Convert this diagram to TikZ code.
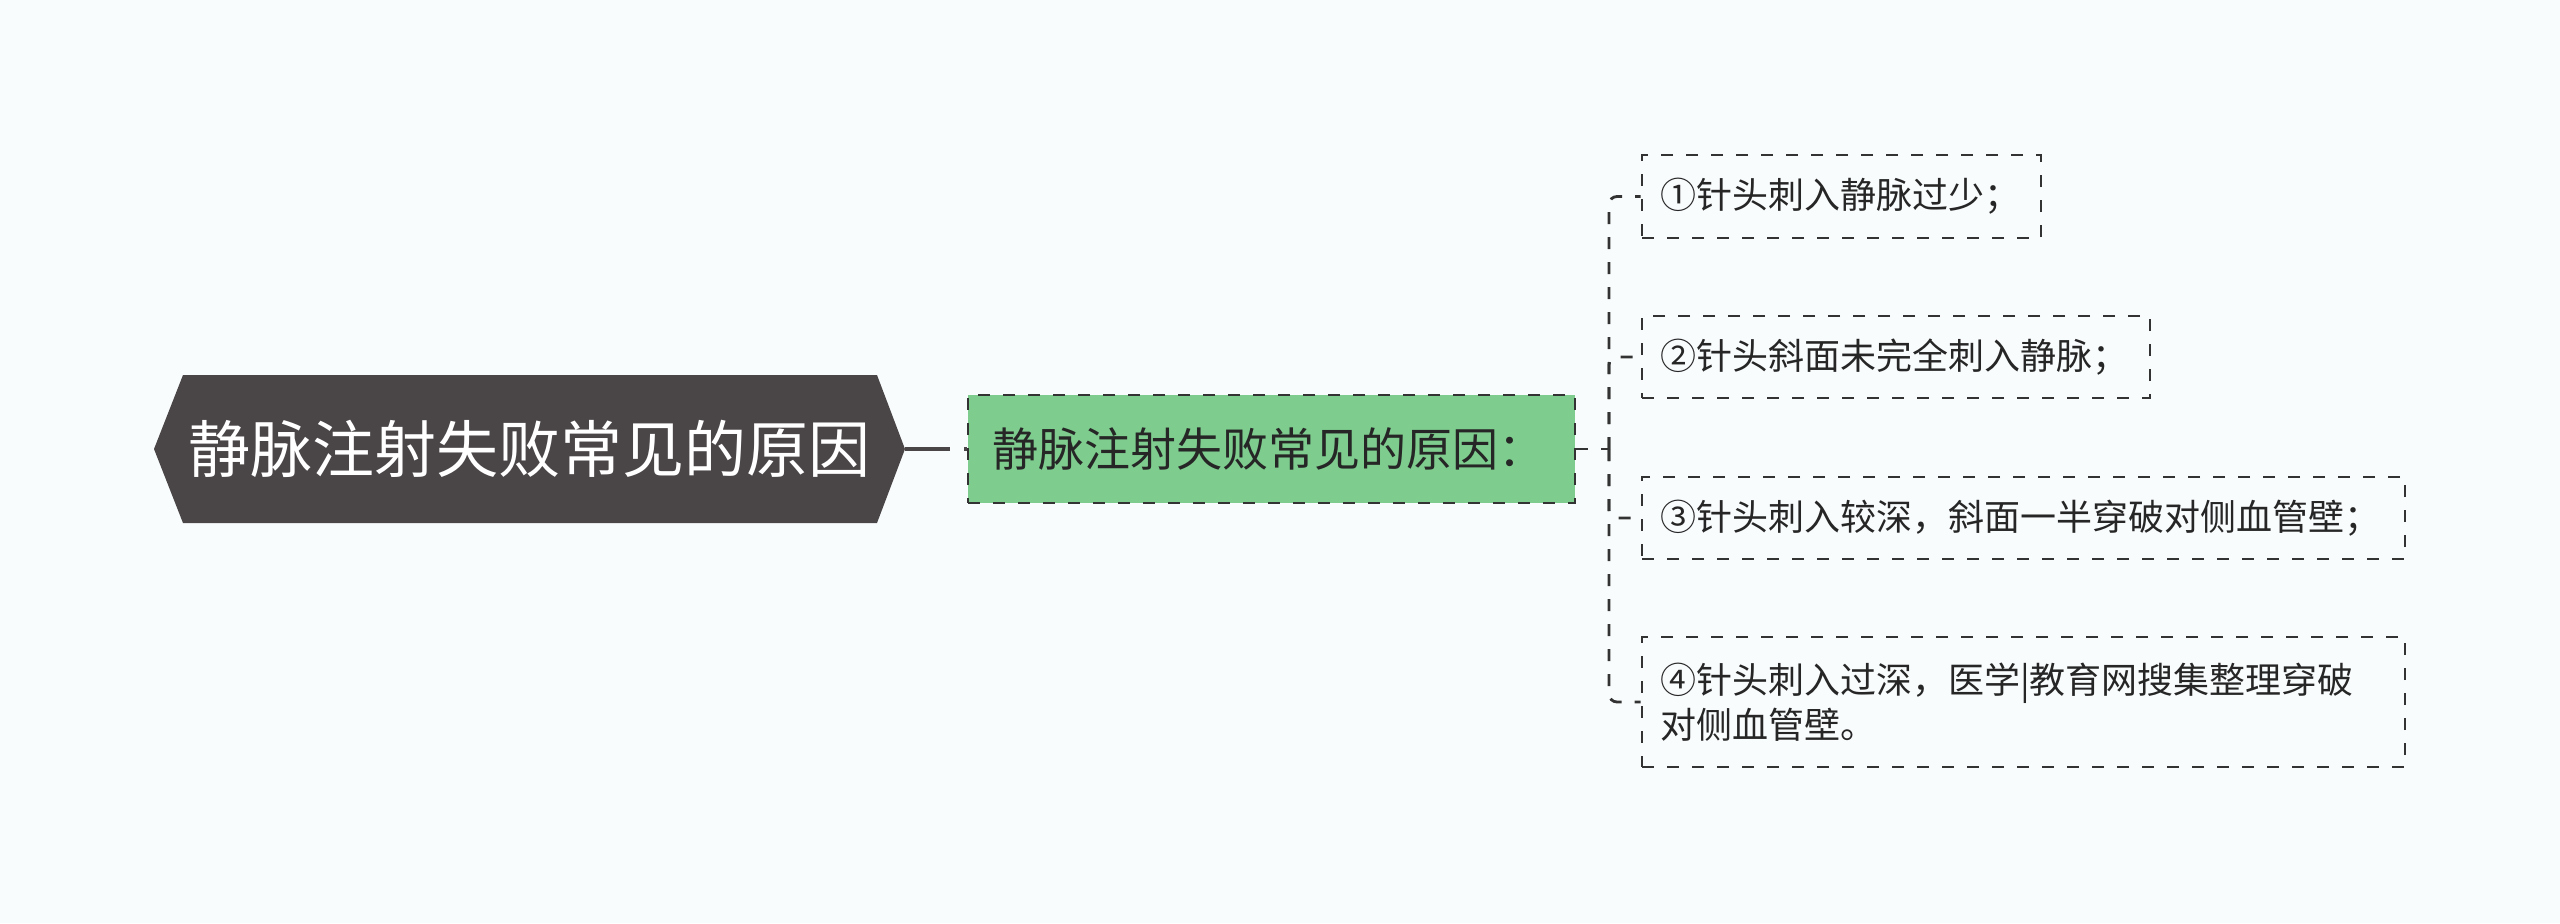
\documentclass[tikz,border=0pt]{standalone}
\usepackage{fontspec}
\newfontfamily\cjk{Noto Sans CJK SC}
\definecolor{bg}{HTML}{F9FCFD}
\definecolor{rootc}{HTML}{4A4546}
\definecolor{greenc}{HTML}{7ECD8F}
\definecolor{linec}{HTML}{333333}
\definecolor{txt}{HTML}{262626}
\begin{document}
\begin{tikzpicture}[x=0.5pt,y=-0.5pt,
  dashln/.style={draw=linec, line width=1.4pt, dash pattern=on 6pt off 6.5pt},
  leaf/.style={dashln, fill=bg, inner xsep=9pt, inner ysep=0pt, align=left, text=txt,
    font=\cjk\fontsize{18pt}{22.5pt}\selectfont},
  conn/.style={dashln, rounded corners=4pt},
  mainbox/.style={dashln, fill=greenc, inner xsep=12pt, inner ysep=0pt, align=left, text=txt,
    font=\cjk\fontsize{23pt}{28pt}\selectfont},
  rootbox/.style={inner sep=0pt, text=white, font=\cjk\fontsize{31pt}{37pt}\selectfont},
]
\fill[bg] (0,0) rectangle (2560,923);
\useasboundingbox (0,0) rectangle (2560,923);

% root hexagon
\fill[rootc] (154,449) -- (183,375) -- (877,375) -- (905,449) -- (877,523) -- (183,523) -- cycle;
\node[rootbox, minimum width=375.5pt, minimum height=74pt] (root) at (529.5,449) {静脉注射失败常见的原因};

% main green box
\node[mainbox, text width=279.5pt, minimum height=54pt] (main) at (1271.5,449) {静脉注射失败常见的原因：};

% leaves
\node[leaf, text width=181.5pt, minimum height=41.5pt] (l1) at (1841.5,196.5) {①针头刺入静脉过少；};
\node[leaf, text width=236pt, minimum height=41pt] (l2) at (1896,357) {②针头斜面未完全刺入静脉；};
\node[leaf, text width=363.5pt, minimum height=41pt] (l3) at (2023.5,518) {③针头刺入较深，斜面一半穿破对侧血管壁；};
\node[leaf, text width=363.5pt, minimum height=65pt] (l4) at (2023.5,702) {④针头刺入过深，医学|教育网搜集整理穿破\\对侧血管壁。};

\coordinate (j) at (1609,449);

% connectors
\draw[rootc, line width=2pt, dash pattern=on 22.5pt off 7pt] (root.east) -- (main.west);
\draw[conn] (main.east) -- (j);
\foreach \n in {l1,l2,l3,l4} \draw[conn] (j) |- (\n.west);
\end{tikzpicture}
\end{document}
